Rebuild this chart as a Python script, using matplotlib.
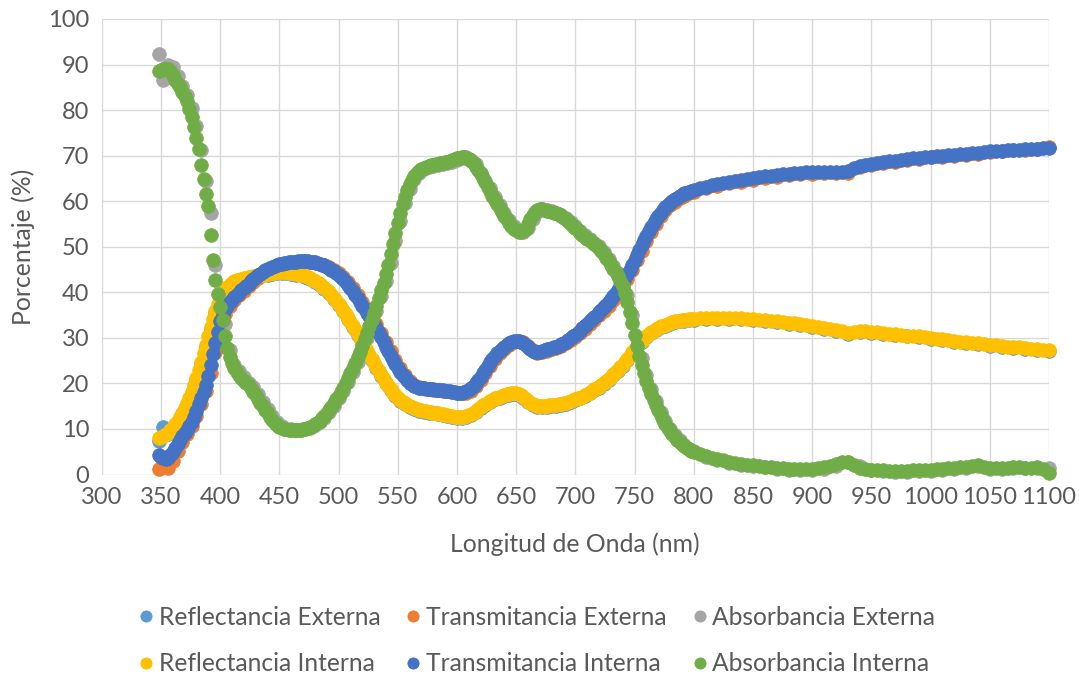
import numpy as np
import matplotlib
matplotlib.use("Agg")
import matplotlib.pyplot as plt

# Colores tipo Office
c_ref_ext = '#5B9BD5'
c_tra_ext = '#ED7D31'
c_abs_ext = '#A5A5A5'
c_ref_int = '#FFC000'
c_tra_int = '#4472C4'
c_abs_int = '#70AD47'
txt = '#595959'

plt.rcParams['font.family'] = ['Lato', 'DejaVu Sans']

# Longitudes de onda (nm): series internas y externas
wl = np.concatenate([np.arange(348, 801, 2), np.arange(805, 1101, 5)])
wl_ext = np.concatenate([np.arange(348, 801, 4), np.arange(810, 1101, 10)])

# Absorbancia Interna (%)
abs_int = [
    88.6, 88.8, 89.0, 89.1, 89.0, 88.6, 87.6, 86.6, 85.8, 85.1,
    84.0, 83.0, 82.0, 80.3, 78.4, 76.2, 73.8, 71.5, 68.0, 64.8,
    61.5, 59.0, 52.6, 47.0, 42.8, 39.7, 36.7, 34.0, 30.5, 27.8,
    25.8, 24.4, 23.4, 22.6, 21.9, 21.2, 20.5, 20.0, 19.6, 19.0,
    18.2, 17.4, 16.6, 15.8, 15.0, 14.2, 13.4, 12.6, 12.0, 11.4,
    10.9, 10.5, 10.2, 10.0, 9.9, 9.8, 9.8, 9.7, 9.7, 9.7,
    9.8, 9.9, 10.0, 10.2, 10.4, 10.7, 11.0, 11.4, 11.8, 12.3,
    12.9, 13.5, 14.2, 14.9, 15.7, 16.5, 17.3, 18.2, 19.1, 20.1,
    21.1, 22.2, 23.3, 24.5, 25.7, 27.0, 28.3, 29.7, 31.1, 32.5,
    34.0, 35.5, 37.1, 38.7, 40.4, 42.1, 44.0, 46.0, 48.3, 50.6,
    53.0, 55.3, 57.4, 59.4, 61.0, 62.5, 63.7, 64.7, 65.5, 66.1,
    66.6, 67.0, 67.3, 67.6, 67.8, 67.9, 68.0, 68.1, 68.2, 68.3,
    68.4, 68.5, 68.6, 68.8, 69.0, 69.2, 69.4, 69.5, 69.6, 69.6,
    69.5, 69.2, 68.8, 68.3, 67.6, 66.8, 66.0, 65.1, 64.2, 63.2,
    62.2, 61.2, 60.2, 59.3, 58.4, 57.6, 56.8, 56.0, 55.3, 54.6,
    54.0, 53.6, 53.3, 53.2, 53.4, 54.0, 55.0, 56.0, 56.9, 57.6,
    58.1, 58.3, 58.2, 58.0, 57.9, 57.8, 57.7, 57.5, 57.3, 57.1,
    56.8, 56.4, 56.0, 55.6, 55.1, 54.6, 54.1, 53.6, 53.1, 52.6,
    52.2, 51.8, 51.4, 51.0, 50.6, 50.2, 49.7, 49.1, 48.4, 47.6,
    46.8, 46.0, 45.2, 44.4, 43.5, 42.5, 41.3, 39.8, 37.9, 35.7,
    33.2, 30.6, 28.2, 26.0, 24.0, 22.2, 20.6, 19.1, 17.7, 16.4,
    15.2, 14.1, 13.0, 12.0, 11.1, 10.3, 9.5, 8.8, 8.2, 7.6,
    7.1, 6.6, 6.2, 5.8, 5.5, 5.2, 4.9,
    4.5, 4.1, 3.7, 3.4, 3.1, 2.8, 2.6, 2.4, 2.2, 2.0,
    1.8, 1.7, 1.6, 1.5, 1.4, 1.3, 1.3, 1.2, 1.2, 1.3,
    1.4, 1.6, 1.9, 2.3, 2.7, 2.8, 2.2, 1.5, 1.2, 1.0,
    0.9, 0.9, 0.8, 0.8, 0.8, 0.8, 0.9, 0.9, 1.0, 1.1,
    1.2, 1.3, 1.4, 1.5, 1.6, 1.7, 1.9, 2.0, 1.6, 1.4,
    1.4, 1.5, 1.5, 1.6, 1.6, 1.5, 1.5, 1.6, 1.3, 0.3,
]

# Transmitancia Interna (%)
tra_int = [
    4.2, 3.9, 3.6, 3.5, 3.7, 4.3, 5.0, 5.9, 6.8, 7.6,
    8.4, 9.1, 9.8, 10.6, 11.6, 12.7, 14.0, 15.4, 16.8, 18.2,
    19.7, 21.7, 24.0, 26.4, 28.8, 31.3, 33.6, 35.2, 36.3, 37.1,
    37.8, 38.4, 38.9, 39.4, 39.9, 40.4, 40.9, 41.4, 41.9, 42.4,
    42.9, 43.3, 43.7, 44.1, 44.5, 44.8, 45.1, 45.4, 45.6, 45.8,
    46.0, 46.2, 46.3, 46.4, 46.5, 46.6, 46.6, 46.7, 46.7, 46.8,
    46.8, 46.8, 46.8, 46.8, 46.7, 46.7, 46.6, 46.5, 46.3, 46.1,
    45.9, 45.6, 45.3, 45.0, 44.7, 44.3, 43.9, 43.4, 42.9, 42.3,
    41.7, 41.0, 40.3, 39.5, 38.7, 37.9, 37.1, 36.3, 35.5, 34.7,
    33.9, 33.0, 32.1, 31.1, 30.1, 29.1, 28.1, 27.1, 26.1, 25.1,
    24.2, 23.4, 22.6, 21.9, 21.3, 20.7, 20.2, 19.8, 19.5, 19.3,
    19.1, 19.0, 18.9, 18.8, 18.8, 18.7, 18.7, 18.6, 18.6, 18.5,
    18.5, 18.4, 18.4, 18.3, 18.2, 18.1, 18.0, 18.0, 18.0, 18.1,
    18.3, 18.6, 19.0, 19.5, 20.1, 20.8, 21.5, 22.2, 23.0, 23.8,
    24.6, 25.3, 26.0, 26.6, 27.1, 27.6, 28.0, 28.4, 28.8, 29.1,
    29.3, 29.4, 29.4, 29.2, 28.9, 28.5, 28.0, 27.5, 27.1, 26.9,
    26.8, 26.9, 27.1, 27.3, 27.5, 27.6, 27.7, 27.9, 28.1, 28.3,
    28.6, 28.9, 29.2, 29.6, 30.0, 30.3, 30.6, 31.1, 31.6, 32.1,
    32.6, 33.1, 33.6, 34.1, 34.6, 35.1, 35.6, 36.1, 36.7, 37.3,
    37.9, 38.5, 39.2, 39.9, 40.6, 41.4, 42.2, 43.1, 44.0, 45.0,
    46.0, 47.0, 48.1, 49.2, 50.3, 51.4, 52.4, 53.4, 54.3, 55.2,
    56.0, 56.8, 57.5, 58.1, 58.7, 59.2, 59.7, 60.1, 60.5, 60.8,
    61.1, 61.4, 61.7, 61.9, 62.1, 62.3, 62.5,
    62.9, 63.2, 63.5, 63.8, 64.0, 64.3, 64.5, 64.7, 64.9, 65.1,
    65.3, 65.5, 65.6, 65.8, 65.9, 66.0, 66.1, 66.2, 66.3, 66.3,
    66.4, 66.4, 66.4, 66.4, 66.4, 66.6, 67.3, 67.8, 68.0, 68.2,
    68.4, 68.6, 68.8, 68.9, 69.1, 69.2, 69.4, 69.5, 69.6, 69.8,
    69.9, 70.0, 70.1, 70.2, 70.3, 70.4, 70.5, 70.6, 70.8, 71.0,
    71.0, 71.1, 71.2, 71.3, 71.3, 71.4, 71.5, 71.5, 71.6, 71.6,
]

# Reflectancia Interna (%)
ref_int = [
    8.0, 8.2, 8.5, 8.8, 9.2, 9.7, 10.3, 11.0, 11.8, 12.6,
    13.5, 14.5, 15.6, 16.8, 18.1, 19.6, 21.2, 22.9, 24.7, 26.6,
    28.5, 30.4, 32.3, 34.1, 35.9, 37.5, 38.8, 39.8, 40.6, 41.2,
    41.7, 42.1, 42.4, 42.6, 42.8, 43.0, 43.1, 43.2, 43.3, 43.4,
    43.5, 43.6, 43.7, 43.8, 43.9, 44.0, 44.1, 44.2, 44.3, 44.3,
    44.4, 44.4, 44.4, 44.4, 44.4, 44.3, 44.3, 44.2, 44.1, 44.0,
    43.9, 43.7, 43.5, 43.3, 43.1, 42.8, 42.5, 42.2, 41.8, 41.4,
    41.0, 40.5, 40.0, 39.4, 38.8, 38.2, 37.5, 36.8, 36.0, 35.2,
    34.4, 33.5, 32.6, 31.7, 30.8, 29.9, 29.0, 28.1, 27.2, 26.3,
    25.4, 24.5, 23.6, 22.7, 21.8, 21.0, 20.2, 19.4, 18.7, 18.0,
    17.4, 16.9, 16.4, 16.0, 15.6, 15.3, 15.0, 14.8, 14.6, 14.4,
    14.2, 14.1, 14.0, 13.9, 13.8, 13.7, 13.6, 13.5, 13.4, 13.3,
    13.2, 13.1, 13.0, 12.9, 12.8, 12.7, 12.6, 12.6, 12.6, 12.7,
    12.8, 13.0, 13.3, 13.6, 14.0, 14.4, 14.8, 15.2, 15.5, 15.8,
    16.1, 16.4, 16.7, 16.9, 17.1, 17.3, 17.5, 17.6, 17.7, 17.8,
    17.8, 17.8, 17.7, 17.5, 17.1, 16.6, 16.1, 15.7, 15.4, 15.2,
    15.1, 15.1, 15.1, 15.1, 15.1, 15.2, 15.2, 15.3, 15.3, 15.4,
    15.5, 15.6, 15.7, 15.9, 16.1, 16.3, 16.5, 16.7, 16.9, 17.1,
    17.4, 17.7, 18.0, 18.3, 18.7, 19.0, 19.3, 19.7, 20.1, 20.5,
    21.0, 21.5, 22.0, 22.5, 23.0, 23.5, 24.0, 24.6, 25.3, 26.0,
    26.8, 27.5, 28.2, 28.8, 29.4, 29.9, 30.4, 30.8, 31.2, 31.6,
    31.9, 32.2, 32.5, 32.7, 32.9, 33.1, 33.3, 33.4, 33.6, 33.7,
    33.8, 33.9, 34.0, 34.0, 34.1, 34.1, 34.2,
    34.3, 34.3, 34.4, 34.4, 34.4, 34.4, 34.3, 34.3, 34.2, 34.1,
    34.0, 33.9, 33.8, 33.6, 33.5, 33.3, 33.2, 33.0, 32.8, 32.6,
    32.4, 32.2, 32.0, 31.7, 31.4, 31.1, 31.3, 31.4, 31.4, 31.3,
    31.2, 31.1, 30.9, 30.8, 30.7, 30.5, 30.4, 30.3, 30.1, 30.0,
    29.8, 29.7, 29.5, 29.4, 29.2, 29.1, 28.9, 28.8, 28.7, 28.5,
    28.4, 28.3, 28.1, 28.0, 27.9, 27.7, 27.6, 27.5, 27.4, 27.3,
]

# Reflectancia Externa (%)
ref_ext = [
    7.4, 10.4, 9.0, 10.0, 11.5, 13.2, 15.3, 17.8, 20.8, 24.3,
    28.1, 31.9, 35.5, 38.4, 40.3, 41.5, 42.2, 42.6, 42.9, 43.1,
    43.3, 43.5, 43.7, 43.9, 44.1, 44.2, 44.2, 44.2, 44.1, 43.9,
    43.7, 43.3, 42.9, 42.3, 41.6, 40.8, 39.8, 38.6, 37.3, 35.8,
    34.2, 32.4, 30.6, 28.8, 27.0, 25.2, 23.4, 21.6, 20.0, 18.5,
    17.2, 16.2, 15.4, 14.8, 14.4, 14.0, 13.8, 13.6, 13.4, 13.2,
    13.0, 12.8, 12.6, 12.4, 12.4, 12.6, 13.1, 13.8, 14.6, 15.3,
    15.9, 16.5, 16.9, 17.3, 17.5, 17.6, 17.5, 16.9, 15.9, 15.2,
    14.9, 14.9, 14.9, 15.0, 15.1, 15.3, 15.5, 15.9, 16.3, 16.7,
    17.2, 17.8, 18.5, 19.1, 19.9, 20.8, 21.8, 22.8, 23.8, 25.1,
    26.6, 28.0, 29.2, 30.2, 31.0, 31.7, 32.3, 32.7, 33.1, 33.4,
    33.6, 33.8, 33.9, 34.0,
    34.1, 34.2, 34.2, 34.1, 33.9, 33.7, 33.4, 33.1, 32.8, 32.4,
    32.0, 31.5, 30.9, 31.2, 31.1, 30.9, 30.6, 30.3, 30.1, 29.8,
    29.5, 29.2, 28.9, 28.6, 28.3, 28.1, 27.8, 27.5, 27.3, 27.1,
]

# Transmitancia Externa (%)
tra_ext = [
    1.2, 1.6, 1.5, 3.0, 5.2, 7.2, 8.8, 10.6, 12.8, 15.4,
    18.4, 22.2, 27.0, 31.8, 35.2, 37.0, 38.3, 39.3, 40.3, 41.3,
    42.3, 43.2, 44.0, 44.6, 45.1, 45.6, 45.9, 46.1, 46.3, 46.4,
    46.5, 46.6, 46.6, 46.5, 46.3, 46.0, 45.5, 45.0, 44.3, 43.4,
    42.3, 41.0, 39.5, 37.9, 36.3, 34.7, 33.0, 31.1, 29.1, 27.1,
    25.1, 23.3, 21.8, 20.6, 19.7, 19.2, 18.9, 18.7, 18.6, 18.5,
    18.4, 18.3, 18.1, 17.9, 17.8, 17.9, 18.4, 19.4, 20.7, 22.2,
    23.8, 25.3, 26.6, 27.6, 28.4, 29.0, 29.3, 29.1, 28.3, 27.3,
    26.7, 26.8, 27.2, 27.5, 27.8, 28.2, 28.8, 29.5, 30.1, 31.0,
    32.0, 33.0, 34.0, 35.0, 36.0, 37.1, 38.3, 39.7, 41.2, 42.9,
    44.9, 47.0, 49.1, 51.3, 53.3, 55.1, 56.7, 58.0, 59.1, 59.9,
    60.6, 61.2, 61.7, 62.1,
    62.8, 63.4, 63.9, 64.3, 64.7, 65.1, 65.4, 65.7, 65.9, 66.0,
    66.1, 66.1, 66.2, 67.5, 68.0, 68.4, 68.7, 69.0, 69.3, 69.6,
    69.8, 70.0, 70.2, 70.4, 70.8, 71.0, 71.2, 71.3, 71.5, 71.8,
]

# Absorbancia Externa (%)
abs_ext = [
    92.3, 86.5, 89.8, 89.5, 87.5, 85.3, 83.4, 80.5, 76.5, 71.2,
    64.4, 57.5, 46.0, 38.9, 33.1, 27.3, 24.1, 22.8, 21.4, 20.1,
    19.2, 17.6, 16.0, 14.4, 12.8, 11.5, 10.6, 10.1, 9.9, 9.8,
    9.7, 9.9, 10.3, 10.8, 11.5, 12.4, 13.7, 15.1, 16.7, 18.4,
    20.3, 22.5, 24.8, 27.3, 30.0, 32.9, 35.9, 39.1, 42.5, 46.5,
    51.2, 55.7, 59.6, 62.6, 64.9, 66.2, 67.0, 67.5, 67.8, 68.0,
    68.2, 68.4, 68.7, 69.1, 69.4, 69.6, 69.1, 68.1, 66.2, 64.4,
    63.0, 61.0, 59.1, 57.4, 55.8, 54.5, 53.5, 53.2, 54.2, 56.2,
    57.7, 58.3, 58.0, 57.8, 57.5, 57.0, 56.3, 55.5, 54.5, 53.5,
    52.5, 51.7, 50.9, 50.1, 48.9, 47.4, 45.8, 44.2, 42.2, 39.3,
    35.1, 30.0, 25.5, 21.8, 18.8, 16.1, 13.8, 11.8, 10.1, 8.7,
    7.5, 6.5, 5.7, 5.1,
    3.9, 3.1, 2.6, 2.2, 1.9, 1.6, 1.3, 1.1, 1.0, 1.1,
    1.3, 1.9, 2.7, 1.8, 0.9, 0.7, 0.6, 0.6, 0.7, 0.8,
    1.0, 1.2, 1.4, 1.8, 1.3, 1.3, 1.4, 1.4, 1.4, 1.5,
]

fig = plt.figure(figsize=(10.79, 6.75), dpi=100)
ax = fig.add_axes([0.0943, 0.297, 0.8779, 0.6749])

ms = 9.8
series = [
    (wl_ext, ref_ext, c_ref_ext, 'Reflectancia Externa'),
    (wl_ext, tra_ext, c_tra_ext, 'Transmitancia Externa'),
    (wl_ext, abs_ext, c_abs_ext, 'Absorbancia Externa'),
    (wl, ref_int, c_ref_int, 'Reflectancia Interna'),
    (wl, tra_int, c_tra_int, 'Transmitancia Interna'),
    (wl, abs_int, c_abs_int, 'Absorbancia Interna'),
]
handles = []
for x, y, c, lab in series:
    h, = ax.plot(x, y, 'o', ms=ms, color=c, mec=c, mew=0.6, label=lab,
                 zorder=3, clip_on=False)
    handles.append(h)

ax.set_xlim(300, 1100)
ax.set_ylim(0, 100)
ax.set_xticks(np.arange(300, 1101, 50))
ax.set_yticks(np.arange(0, 101, 10))
ax.grid(True, color='#d9d9d9', lw=1.0, zorder=0)
ax.set_axisbelow(True)
for s in ax.spines.values():
    s.set_visible(False)
ax.tick_params(length=0, labelsize=17, colors=txt, pad=9)

fig.text(0.533, 0.194, 'Longitud de Onda (nm)', ha='center', va='center',
         fontsize=17.8, color=txt)
fig.text(0.0215, 0.634, 'Porcentaje (%)', ha='center', va='center',
         rotation=90, fontsize=17.8, color=txt)

# orden para que las filas queden Externa / Interna
order = [0, 3, 1, 4, 2, 5]
leg = fig.legend([handles[i] for i in order], [series[i][3] for i in order],
                 ncol=3, loc='center', bbox_to_anchor=(0.497, 0.051),
                 frameon=False, fontsize=17.7, handlelength=0.7,
                 handletextpad=0.15, columnspacing=1.0, labelspacing=0.96,
                 markerscale=0.82)
for t in leg.get_texts():
    t.set_color(txt)

fig.savefig('out.png', dpi=100)
